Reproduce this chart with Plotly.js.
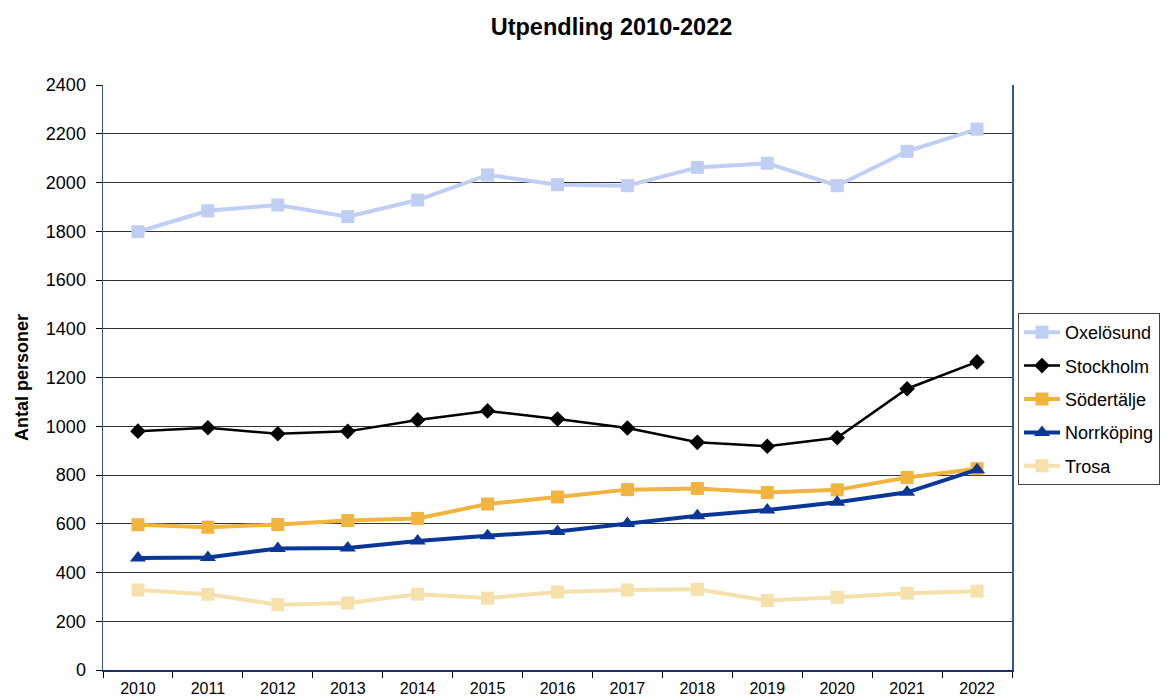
<!DOCTYPE html>
<html>
<head>
<meta charset="utf-8">
<script src="https://cdn.plot.ly/plotly-3.0.1.min.js"></script>
<style>html,body{margin:0;padding:0;background:#fff;}#chart{width:1167px;height:698px;}</style>
</head>
<body>
<div id="chart"></div>
<script>
const years = ["2010","2011","2012","2013","2014","2015","2016","2017","2018","2019","2020","2021","2022"];
const oxelosund = [1798, 1884, 1908, 1860, 1928, 2031, 1991, 1987, 2062, 2079, 1987, 2128, 2219];
const stockholm = [980, 994, 969, 979, 1026, 1063, 1030, 993, 934, 918, 953, 1154, 1264];
const sodertalje = [596, 586, 597, 613, 622, 681, 710, 740, 745, 728, 739, 790, 826];
const norrkoping = [459, 462, 498, 501, 529, 551, 568, 601, 633, 656, 688, 729, 822];
const trosa = [328, 311, 268, 275, 311, 295, 320, 328, 331, 285, 298, 315, 323];
const yTicks = [0,200,400,600,800,1000,1200,1400,1600,1800,2000,2200,2400];

function tr(name, y, color, symbol, size, width) {
  return {
    type: 'scatter', mode: 'lines+markers', name: name, x: years, y: y,
    legendgroup: name,
    line: {color: color, width: width},
    marker: {color: color, symbol: symbol, size: size}
  };
}

const data = [
  tr('Oxelösund', oxelosund, '#C0CEF4', 'square', 13, 4),
  tr('Stockholm', stockholm, '#000000', 'diamond', 12, 2.5),
  tr('Södertälje', sodertalje, '#F1B43E', 'square', 13, 4),
  tr('Norrköping', norrkoping, '#0A3797', 'triangle-up', 14, 4),
  tr('Trosa', trosa, '#F6E0AC', 'square', 13, 4)
];

const layout = {
  width: 1167, height: 698,
  margin: {l: 103, r: 155, t: 85, b: 28},
  paper_bgcolor: '#fff', plot_bgcolor: '#fff',
  font: {family: 'Liberation Sans, Arial, sans-serif', color: '#000'},
  title: {text: '<b>Utpendling 2010-2022</b>', font: {size: 23.5, color: '#000'}, x: 0.524, xanchor: 'center', y: 0.962, yanchor: 'middle'},
  xaxis: {
    type: 'category', range: [-0.5, 12.5], tickson: 'boundaries',
    ticks: 'outside', ticklen: 6, tickcolor: '#000', tickwidth: 1,
    showgrid: false, showline: true, linecolor: '#1F2F6E', linewidth: 1.5,
    tickfont: {size: 16}, zeroline: false, fixedrange: true, ticklabelstandoff: 3
  },
  yaxis: {
    range: [0, 2400], tickvals: yTicks, ticktext: yTicks.map(String),
    ticks: 'outside', ticklen: 6, tickcolor: '#000',
    showgrid: true, gridcolor: '#333', gridwidth: 1,
    showline: true, linecolor: '#2F55A8', linewidth: 1.5, mirror: true,
    tickfont: {size: 18}, zeroline: false, ticklabelstandoff: 6,
    title: {text: '<b>Antal personer</b>', font: {size: 18}, standoff: 12}
  },
  legend: {
    xref: 'container', yref: 'container',
    x: 0.8723, xanchor: 'left', y: 0.5516, yanchor: 'top',
    bordercolor: '#444', borderwidth: 1, bgcolor: '#fff',
    font: {size: 18}, tracegroupgap: 7, itemwidth: 36
  },
  showlegend: true
};

Plotly.newPlot('chart', data, layout, {displayModeBar: false, staticPlot: true});
</script>
</body>
</html>
